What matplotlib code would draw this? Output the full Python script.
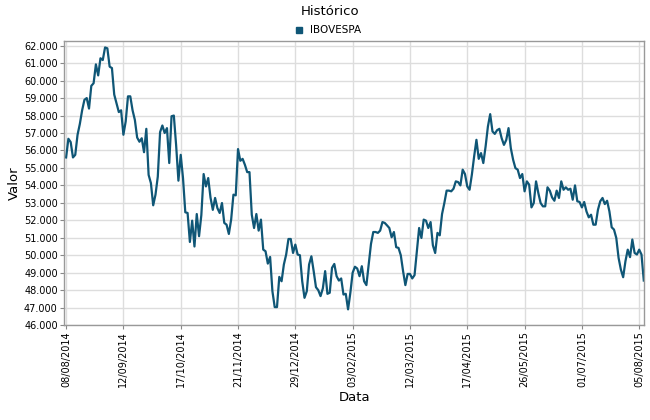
import matplotlib
matplotlib.use("Agg")
import matplotlib.pyplot as plt
from matplotlib.lines import Line2D
from matplotlib.ticker import FuncFormatter, MultipleLocator

# IBOVESPA closing values (thousands of points), one per trading day
ibov = [
    55.6, 56.67, 56.48, 55.6, 55.75, 56.9, 57.52, 58.3, 58.9, 59.0,
    58.4, 59.7, 59.85, 60.93, 60.3, 61.28, 61.18, 61.9, 61.85, 60.8,
    60.72, 59.2, 58.7, 58.2, 58.3, 56.9, 57.66, 59.1, 59.1, 58.3,
    57.75, 56.74, 56.5, 56.7, 55.9, 57.24, 54.6, 54.13, 52.86, 53.47,
    54.5, 57.05, 57.43, 57.0, 57.28, 55.28, 57.96, 58.0, 56.3, 54.27,
    55.75, 54.42, 52.46, 52.42, 50.76, 51.98, 50.5, 52.36, 51.09, 52.3,
    54.65, 53.94, 54.42, 53.3, 52.6, 53.28, 52.7, 52.42, 52.99, 51.85,
    51.75, 51.22, 52.04, 53.47, 53.43, 56.08, 55.41, 55.52, 55.18, 54.76,
    54.76, 52.32, 51.56, 52.36, 51.41, 52.04, 50.32, 50.23, 49.52, 49.9,
    47.94, 47.03, 47.03, 48.76, 48.51, 49.47, 50.04, 50.93, 50.93, 50.13,
    50.61, 50.04, 50.0, 48.51, 47.56, 47.94, 49.47, 49.94, 49.09, 48.17,
    48.0, 47.66, 48.1, 49.09, 47.79, 47.85, 49.28, 49.5, 48.8, 48.55,
    48.67, 47.75, 47.79, 46.9, 47.85, 49.0, 49.34, 49.24, 48.8, 49.37,
    48.51, 48.29, 49.47, 50.65, 51.33, 51.33, 51.28, 51.41, 51.9, 51.85,
    51.71, 51.56, 51.03, 51.33, 50.46, 50.42, 50.0, 49.09, 48.29, 48.93,
    48.93, 48.67, 48.86, 50.23, 51.56, 50.99, 52.04, 51.98, 51.56, 51.9,
    50.57, 50.13, 51.28, 51.14, 52.36, 52.99, 53.7, 53.7, 53.66, 53.81,
    54.23, 54.19, 54.0, 54.9, 54.65, 53.94, 53.75, 54.61, 55.66, 56.61,
    55.52, 55.85, 55.28, 56.23, 57.37, 58.08, 57.09, 56.95, 57.16, 57.24,
    56.7, 56.32, 56.6, 57.28, 56.13, 55.47, 54.99, 54.9, 54.42, 54.65,
    53.66, 54.23, 54.04, 52.74, 52.99, 54.23, 53.56, 52.99, 52.8, 52.8,
    53.89, 53.7, 53.31, 53.12, 53.7, 53.28, 54.23, 53.75, 53.89, 53.75,
    53.81, 53.18, 54.0, 53.09, 53.05, 52.74, 53.05, 52.51, 52.17, 52.32,
    51.75, 51.75, 52.6, 53.09, 53.28, 52.93, 53.12, 52.51, 51.6, 51.47,
    50.99, 49.85, 49.18, 48.74, 49.66, 50.32, 49.89, 50.9, 50.13, 50.04,
    50.32, 50.04, 48.55,
]
tick_labels = [
    "08/08/2014", "12/09/2014", "17/10/2014", "21/11/2014", "29/12/2014",
    "03/02/2015", "12/03/2015", "17/04/2015", "26/05/2015", "01/07/2015",
    "05/08/2015",
]
tick_step = 25

values = [v * 1000 for v in ibov]
days = list(range(len(values)))
color = "#0f5676"

fig = plt.figure(figsize=(6.5, 4.2), dpi=100)
ax = fig.add_axes([0.0985, 0.226, 0.893, 0.676])

ax.plot(days, values, color=color, linewidth=1.6)

ax.set_xlim(-0.9, len(values) - 0.7)
ax.set_ylim(46000, 62260)
ax.set_xticks([i * tick_step for i in range(len(tick_labels))])
ax.set_xticklabels(tick_labels, rotation=90, fontsize=7)
ax.yaxis.set_major_locator(MultipleLocator(1000))
ax.yaxis.set_major_formatter(FuncFormatter(lambda v, p: f"{v:,.0f}".replace(",", ".")))
ax.tick_params(axis="y", labelsize=7)
ax.tick_params(length=3, color="#888888", pad=1.5)

ax.grid(True, color="#dddddd", linewidth=1)
ax.set_axisbelow(True)
for s in ax.spines.values():
    s.set_color("#999999")
    s.set_linewidth(1)

ax.set_ylabel("Valor", fontsize=9.5, labelpad=2)
ax.set_xlabel("Data", fontsize=9.5, labelpad=3)

fig.text(0.508, 0.972, "Histórico", ha="center", va="center", fontsize=9.5)
handle = Line2D([], [], marker="s", linestyle="none", color=color, markersize=5)
fig.legend([handle], ["IBOVESPA"], loc="center", bbox_to_anchor=(0.5, 0.928),
           frameon=False, fontsize=7.5, handletextpad=0.1, borderaxespad=0)

fig.savefig("out.png", dpi=100)
